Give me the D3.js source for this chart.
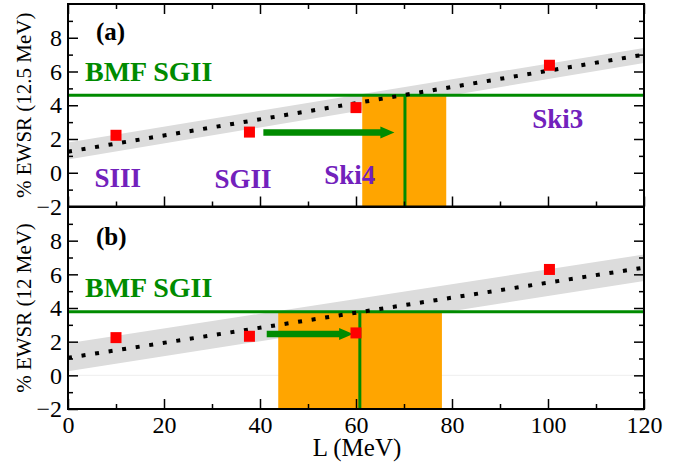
<!DOCTYPE html>
<html>
<head>
<meta charset="utf-8">
<script src="https://cdn.jsdelivr.net/npm/d3@7"></script>
</head>
<body style="margin:0;padding:0;background:#fff">
<svg id="chart" width="698" height="467" style="display:block"></svg>
<script>
// ---------------- data ----------------
const models = ["SIII", "SGII", "Ski4", "Ski3"];
const slopeL = [10, 37.8, 60, 100.3];            // L (MeV)
const ewsrA = [2.22, 2.41, 3.86, 6.37];          // % EWSR (12.5 MeV)
const ewsrB = [2.24, 2.32, 2.52, 6.29];          // % EWSR (12 MeV)

const fitX = [0, 120];
const fitA = [1.25, 7.0];
const bandLowA = [0.78, 6.5];
const bandHighA = [1.8, 7.4];
const fitB = [1.04, 6.4];
const bandLowB = [0.24, 5.6];
const bandHighB = [1.9, 7.18];

const bmfA = 4.6;      // BMF SGII level, panel (a)
const bmfB = 3.77;     // BMF SGII level, panel (b)
const rangeA = [61.3, 78.8];   // orange L range (a)
const rangeB = [43.8, 77.9];   // orange L range (b)
const crossA = 70.2;           // vertical green line (a)
const crossB = 60.8;           // vertical green line (b)
const arrowA = [40.7, 68.0, 2.38];  // from L, to L, level
const arrowB = [41.4, 59.4, 2.46];

const xMajor = [0, 20, 40, 60, 80, 100, 120];
const xMinor = [10, 30, 50, 70, 90, 110];
const yMajor = [-2, 0, 2, 4, 6, 8];
const yMinor = [-1, 1, 3, 5, 7, 9];

// label positions for model names in panel (a): [left L, value at baseline]
const modelLabelPosA = [[5.5, -0.85], [30.5, -0.9], [53.4, -0.65], [96.7, 2.63]];

// ---------------- layout ----------------
const FONT = "'Liberation Serif', monospace";
const svg = d3.select("#chart");
const x = d3.scaleLinear().domain([0, 120]).range([68, 644]);
const yA = d3.scaleLinear().domain([-2, 10]).range([206.5, 4]);
const yB = d3.scaleLinear().domain([-2, 10]).range([409, 207]);

const GREEN = "#008b00", PURPLE = "#7221bc", ORANGE = "#ffa500", BAND = "#dcdcdc";

function panel(y, opts) {
  const g = svg.append("g");
  const x0 = x.range()[0], x1 = x.range()[1];
  const yt = y.range()[1], yb = y.range()[0];

  if (opts.zeroGrid) {
    g.append("line").attr("x1", x0).attr("x2", x1)
      .attr("y1", y(0)).attr("y2", y(0))
      .attr("stroke", "#eeeeee").attr("stroke-width", 1);
  }
  // band
  const bandData = fitX.map((d, i) => ({ l: d, lo: opts.lo[i], hi: opts.hi[i] }));
  g.append("path").datum(bandData)
    .attr("d", d3.area().x(d => x(d.l)).y0(d => y(d.lo)).y1(d => y(d.hi)))
    .attr("fill", BAND);
  // orange range
  g.append("rect")
    .attr("x", x(opts.range[0])).attr("width", x(opts.range[1]) - x(opts.range[0]))
    .attr("y", y(opts.bmf)).attr("height", y(-2) - y(opts.bmf))
    .attr("fill", ORANGE);
  // green horizontal
  g.append("line").attr("x1", x0).attr("x2", x1)
    .attr("y1", y(opts.bmf)).attr("y2", y(opts.bmf))
    .attr("stroke", GREEN).attr("stroke-width", 3);
  // green vertical
  g.append("line").attr("x1", x(opts.cross)).attr("x2", x(opts.cross))
    .attr("y1", y(opts.bmf)).attr("y2", y(-2))
    .attr("stroke", GREEN).attr("stroke-width", 3);
  // dotted fit line
  const fitData = fitX.map((d, i) => ({ l: d, v: opts.fit[i] }));
  g.append("path").datum(fitData)
    .attr("d", d3.line().x(d => x(d.l)).y(d => y(d.v)))
    .attr("stroke", "#000").attr("stroke-width", 4)
    .attr("stroke-dasharray", "4,9.7").attr("fill", "none");
  // arrow
  const ax0 = x(opts.arrow[0]), ax1 = x(opts.arrow[1]), ay = y(opts.arrow[2]);
  g.append("line").attr("x1", ax0).attr("x2", ax1 - 12).attr("y1", ay).attr("y2", ay)
    .attr("stroke", GREEN).attr("stroke-width", 6.5);
  g.append("path")
    .attr("d", `M${ax1},${ay} L${ax1 - 14},${ay - 6} L${ax1 - 14},${ay + 6} Z`)
    .attr("fill", GREEN);
  // points
  g.selectAll("rect.pt").data(slopeL.map((l, i) => ({ l, v: opts.vals[i] })))
    .join("rect").attr("class", "pt")
    .attr("x", d => x(d.l) - 5.5).attr("y", d => y(d.v) - 5.5)
    .attr("width", 11).attr("height", 11).attr("fill", "#ff0000");

  // axes
  const tickStyle = sel => {
    sel.select(".domain").remove();
    sel.attr("font-family", null);
    sel.selectAll(".tick line").attr("stroke", "#000").attr("stroke-width", 1.5);
  };
  const lab = sel => sel.selectAll("text")
    .style("font-family", FONT)
    .attr("font-size", 24).attr("fill", "#000");

  g.append("g").attr("transform", `translate(${x0},0)`)
    .call(d3.axisLeft(y).tickValues(yMajor).tickSizeInner(-10).tickSizeOuter(0).tickPadding(6)
      .tickFormat(d3.format("d")))
    .call(tickStyle).call(lab);
  g.append("g").attr("transform", `translate(${x0},0)`)
    .call(d3.axisLeft(y).tickValues(yMinor).tickSizeInner(-5).tickSizeOuter(0).tickFormat(""))
    .call(tickStyle);
  g.append("g").attr("transform", `translate(${x1},0)`)
    .call(d3.axisRight(y).tickValues(yMajor).tickSizeInner(-10).tickSizeOuter(0).tickFormat(""))
    .call(tickStyle);
  g.append("g").attr("transform", `translate(${x1},0)`)
    .call(d3.axisRight(y).tickValues(yMinor).tickSizeInner(-5).tickSizeOuter(0).tickFormat(""))
    .call(tickStyle);

  g.append("g").attr("transform", `translate(0,${yb})`)
    .call(d3.axisBottom(x).tickValues(xMajor).tickSizeInner(-10).tickSizeOuter(0).tickPadding(7)
      .tickFormat(opts.xLabels ? d3.format("d") : ""))
    .call(tickStyle).call(lab);
  g.append("g").attr("transform", `translate(0,${yb})`)
    .call(d3.axisBottom(x).tickValues(xMinor).tickSizeInner(-5).tickSizeOuter(0).tickFormat(""))
    .call(tickStyle);
  if (opts.topTicks) {
    g.append("g").attr("transform", `translate(0,${yt})`)
      .call(d3.axisTop(x).tickValues(xMajor).tickSizeInner(-10).tickSizeOuter(0).tickFormat(""))
      .call(tickStyle);
    g.append("g").attr("transform", `translate(0,${yt})`)
      .call(d3.axisTop(x).tickValues(xMinor).tickSizeInner(-5).tickSizeOuter(0).tickFormat(""))
      .call(tickStyle);
  }
  // frame
  g.append("rect").attr("x", x0).attr("y", yt).attr("width", x1 - x0).attr("height", yb - yt)
    .attr("fill", "none").attr("stroke", "#000").attr("stroke-width", 2);

  // texts
  g.append("text").attr("x", 96).attr("y", opts.tagY)
    .style("font-family", FONT).attr("font-size", 25).attr("font-weight", "bold")
    .attr("fill", "#000").text(opts.tag);
  g.append("text").attr("x", 85).attr("y", opts.bmfTextY)
    .style("font-family", FONT).attr("font-size", 28).attr("font-weight", "bold")
    .attr("fill", GREEN).text("BMF SGII");
  g.append("text")
    .attr("transform", `translate(31,${(yt + yb) / 2}) rotate(-90)`)
    .attr("text-anchor", "middle")
    .style("font-family", FONT).attr("font-size", 21)
    .attr("fill", "#000").text(opts.ylabel);
  return g;
}

const gA = panel(yA, {
  lo: bandLowA, hi: bandHighA, fit: fitA, vals: ewsrA, bmf: bmfA, range: rangeA,
  cross: crossA, arrow: arrowA, xLabels: false, topTicks: true, zeroGrid: false,
  tag: "(a)", tagY: 39.5, bmfTextY: 81, ylabel: "% EWSR (12.5 MeV)"
});
const gB = panel(yB, {
  lo: bandLowB, hi: bandHighB, fit: fitB, vals: ewsrB, bmf: bmfB, range: rangeB,
  cross: crossB, arrow: arrowB, xLabels: true, topTicks: false, zeroGrid: true,
  tag: "(b)", tagY: 245, bmfTextY: 297, ylabel: "% EWSR (12 MeV)"
});

// model labels in panel (a)
gA.selectAll("text.model").data(models.map((m, i) => ({ m, p: modelLabelPosA[i] })))
  .join("text").attr("class", "model")
  .attr("x", d => x(d.p[0])).attr("y", d => yA(d.p[1]))
  .style("font-family", FONT).attr("font-size", 27).attr("font-weight", "bold")
  .attr("fill", PURPLE)
  .text(d => d.m);

// x-axis title
svg.append("text").attr("x", 357).attr("y", 456).attr("text-anchor", "middle")
  .style("font-family", FONT).attr("font-size", 25)
  .attr("fill", "#000").text("L (MeV)");
</script>
</body>
</html>
